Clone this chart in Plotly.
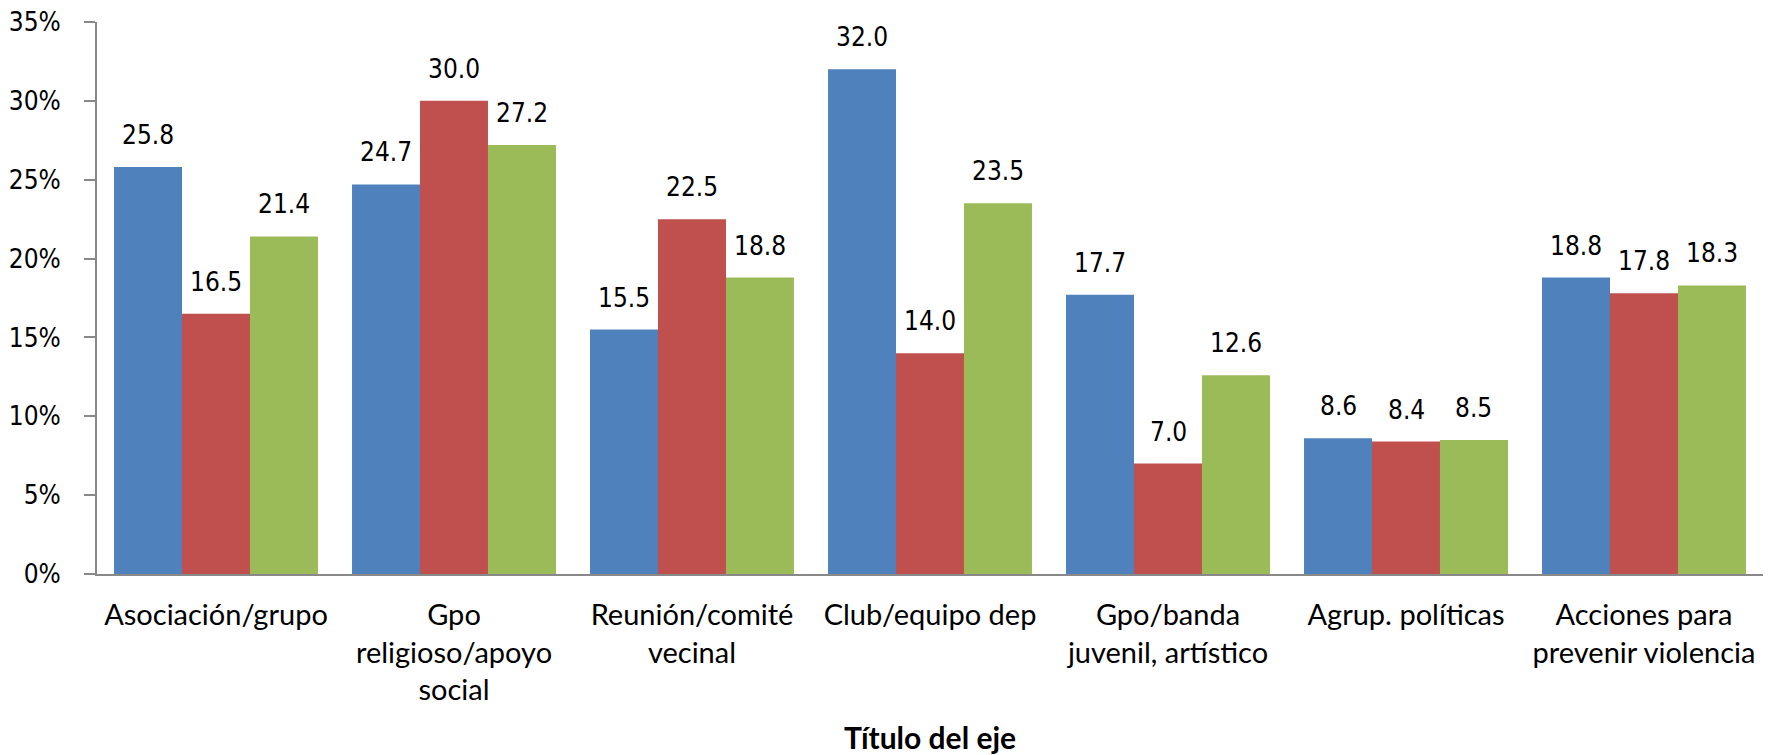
import plotly.graph_objects as go

categories = [
    "Asociación/grupo",
    "Gpo<br>religioso/apoyo<br>social",
    "Reunión/comité<br>vecinal",
    "Club/equipo dep",
    "Gpo/banda<br>juvenil, artístico",
    "Agrup. políticas",
    "Acciones para<br>prevenir violencia",
]
serie_1 = [25.8, 24.7, 15.5, 32.0, 17.7, 8.6, 18.8]
serie_2 = [16.5, 30.0, 22.5, 14.0, 7.0, 8.4, 17.8]
serie_3 = [21.4, 27.2, 18.8, 23.5, 12.6, 8.5, 18.3]
y_ticks = [0, 5, 10, 15, 20, 25, 30, 35]
y_tick_labels = [f"{t}%" for t in y_ticks]

series = [("Serie 1", serie_1, "#4F81BD"), ("Serie 2", serie_2, "#C0504D"), ("Serie 3", serie_3, "#9BBB59")]
positions = list(range(len(categories)))

bargap = 0.143
bar_w = (1 - bargap) / len(series)

label_font = dict(family="DejaVu Sans Condensed, DejaVu Sans, sans-serif", size=26, color="#000000")
cat_font = dict(family="Lato, Open Sans, sans-serif", size=29, color="#000000")

fig = go.Figure()
annotations = []
for k, (name, vals, color) in enumerate(series):
    fig.add_trace(go.Bar(x=positions, y=vals, name=name, marker=dict(color=color, line=dict(width=0))))
    offset = (k - (len(series) - 1) / 2) * bar_w
    for i, v in zip(positions, vals):
        annotations.append(dict(
            x=i + offset, y=v, xref="x", yref="y", text=f"{v:.1f}",
            showarrow=False, yanchor="bottom", yshift=15, font=label_font,
        ))

# axis title as a paper annotation, centred under the plot area
annotations.append(dict(
    x=0.5, y=-0.295, xref="paper", yref="paper", text="<b>Título del eje</b>",
    showarrow=False, xanchor="center", yanchor="middle",
    font=dict(family="Lato, Open Sans, sans-serif", size=30, color="#000000"),
))

# the page body adds an 8px offset, margins account for it
fig.update_layout(
    width=1771, height=755,
    margin=dict(l=89, r=16, t=14, b=189),
    barmode="group", bargap=bargap, bargroupgap=0,
    showlegend=False,
    plot_bgcolor="white", paper_bgcolor="white",
    annotations=annotations,
)
fig.update_xaxes(
    range=[-0.5, len(categories) - 0.5],
    tickmode="array", tickvals=positions, ticktext=categories,
    tickangle=0, tickfont=cat_font, ticks="", ticklabelstandoff=14,
    showline=True, linecolor="#898989", linewidth=2, showgrid=False, zeroline=False,
    automargin=False,
)
fig.update_yaxes(
    range=[0, 35], tickmode="array", tickvals=y_ticks, ticktext=y_tick_labels,
    tickfont=label_font, ticks="outside", ticklen=11, tickcolor="#898989", tickwidth=2,
    ticklabelstandoff=18, ticklabeloverflow="allow",
    showline=True, linecolor="#898989", linewidth=2, showgrid=False, zeroline=False,
    automargin=False,
)

fig.write_html("out.html")
